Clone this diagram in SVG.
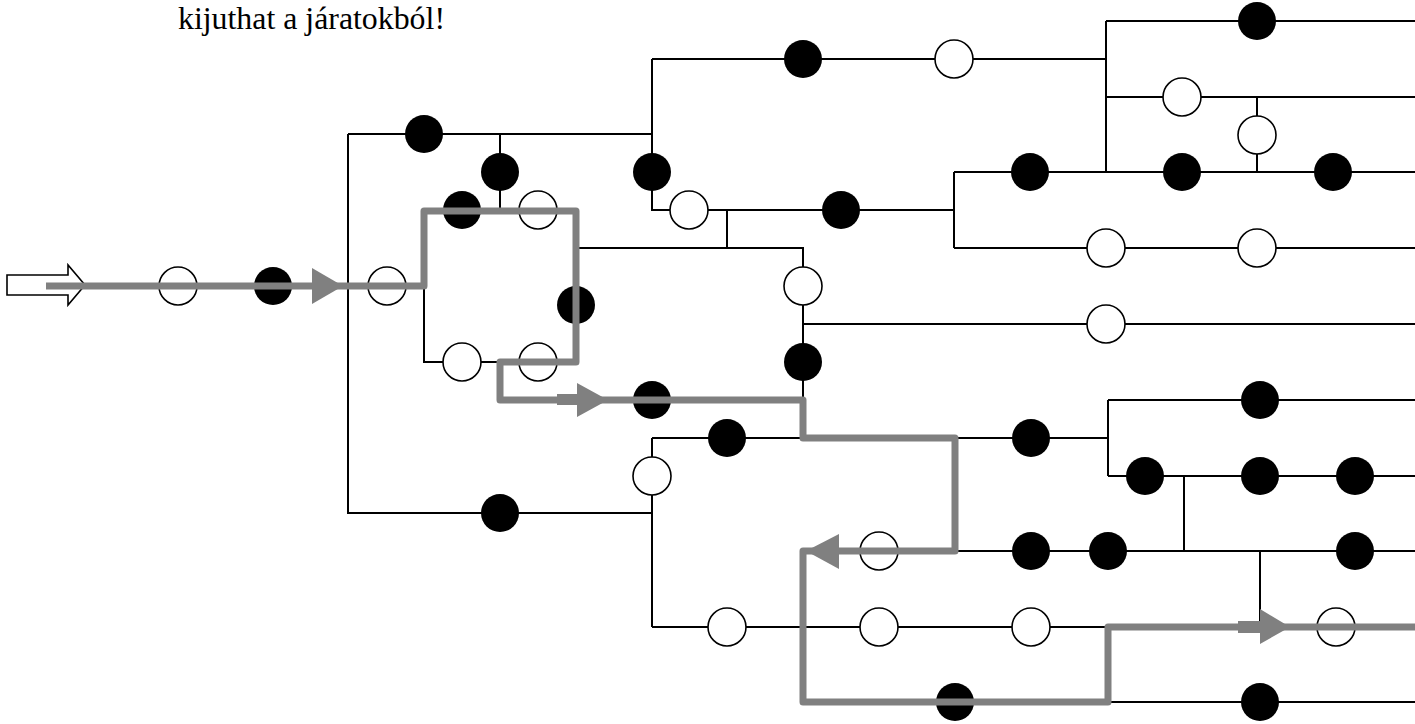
<svg xmlns="http://www.w3.org/2000/svg" width="1415" height="724" viewBox="0 0 1415 724">
<style>
.w{fill:none;stroke:#000;stroke-width:2}
.f{fill:#000;stroke:none}
.h{fill:#fff;stroke:#000;stroke-width:1.6}
.p{fill:none;stroke:#808080;stroke-width:7;stroke-linejoin:round}
.a{fill:#808080;stroke:none}
.t{font-family:"Liberation Serif","Times New Roman",serif;font-size:31px;fill:#000}
</style>
<defs>
<circle id="fc" r="19" class="f"/>
<circle id="hc" r="19" class="h"/>
</defs>
<rect width="1415" height="724" fill="#fff"/>
<text class="t" x="178" y="29" textLength="267" lengthAdjust="spacingAndGlyphs">kijuthat a járatokból!</text>
<g id="walls">
<path class="w" d="M85,286H424M348,134V513H652M348,134H652M500,134V210M652,59V210H954M727,210V248M424,210V362H576V210H424M576,248H803V400M803,324H1415M500,362V400H803M954,172V248M954,172H1415M954,248H1415M652,59H1106M1106,21V172M1106,21H1415M1106,97H1415M1257,97V172M652,438V627M652,438H1108M1108,400V476M1108,400H1415M1108,476H1415M1184,476V551M803,551H1415M1260,551V627M652,627H1415M803,702H1415M803,551V702"/>
</g>
<g id="entrance">
<path d="M7,275H68V265L85,285L68,305V295H7Z" fill="#fff" stroke="#000" stroke-width="1.6"/>
</g>
<g id="nodes">
<use href="#hc" x="178" y="286"/>
<use href="#fc" x="273" y="286"/>
<use href="#hc" x="387" y="286"/>
<use href="#fc" x="424" y="134"/>
<use href="#fc" x="500" y="172"/>
<use href="#fc" x="462" y="210"/>
<use href="#hc" x="538" y="210"/>
<use href="#fc" x="576" y="305"/>
<use href="#hc" x="462" y="362"/>
<use href="#hc" x="538" y="362"/>
<use href="#fc" x="652" y="172"/>
<use href="#hc" x="689" y="210"/>
<use href="#fc" x="841" y="210"/>
<use href="#fc" x="803" y="59"/>
<use href="#hc" x="954" y="59"/>
<use href="#fc" x="1257" y="21"/>
<use href="#hc" x="1182" y="97"/>
<use href="#hc" x="1257" y="135"/>
<use href="#fc" x="1030" y="172"/>
<use href="#fc" x="1182" y="172"/>
<use href="#fc" x="1333" y="172"/>
<use href="#hc" x="1106" y="248"/>
<use href="#hc" x="1257" y="248"/>
<use href="#hc" x="803" y="286"/>
<use href="#hc" x="1106" y="324"/>
<use href="#fc" x="803" y="362"/>
<use href="#fc" x="652" y="400"/>
<use href="#fc" x="727" y="438"/>
<use href="#hc" x="652" y="476"/>
<use href="#fc" x="500" y="513"/>
<use href="#hc" x="727" y="627"/>
<use href="#fc" x="1031" y="438"/>
<use href="#fc" x="1260" y="400"/>
<use href="#fc" x="1145" y="476"/>
<use href="#fc" x="1260" y="476"/>
<use href="#fc" x="1355" y="476"/>
<use href="#hc" x="879" y="551"/>
<use href="#fc" x="1031" y="551"/>
<use href="#fc" x="1108" y="551"/>
<use href="#fc" x="1355" y="551"/>
<use href="#hc" x="879" y="627"/>
<use href="#hc" x="1031" y="627"/>
<use href="#hc" x="1336" y="627"/>
<use href="#fc" x="955" y="702"/>
<use href="#fc" x="1260" y="702"/>
</g>
<g id="connectors">
<path class="p" d="M46,286H424V211H576V362H500V400H803V438H955V551H803V702H1108V627H1415"/>
<path class="a" d="M312,268L343,286L312,304Z"/>
<path class="a" d="M557,394H577V383L608,400L577,417V405H557Z"/>
<path class="a" d="M806,551L839,534V569Z"/>
<path class="a" d="M1238,621H1260V609L1290,627L1260,644V633H1238Z"/>
</g>
</svg>
